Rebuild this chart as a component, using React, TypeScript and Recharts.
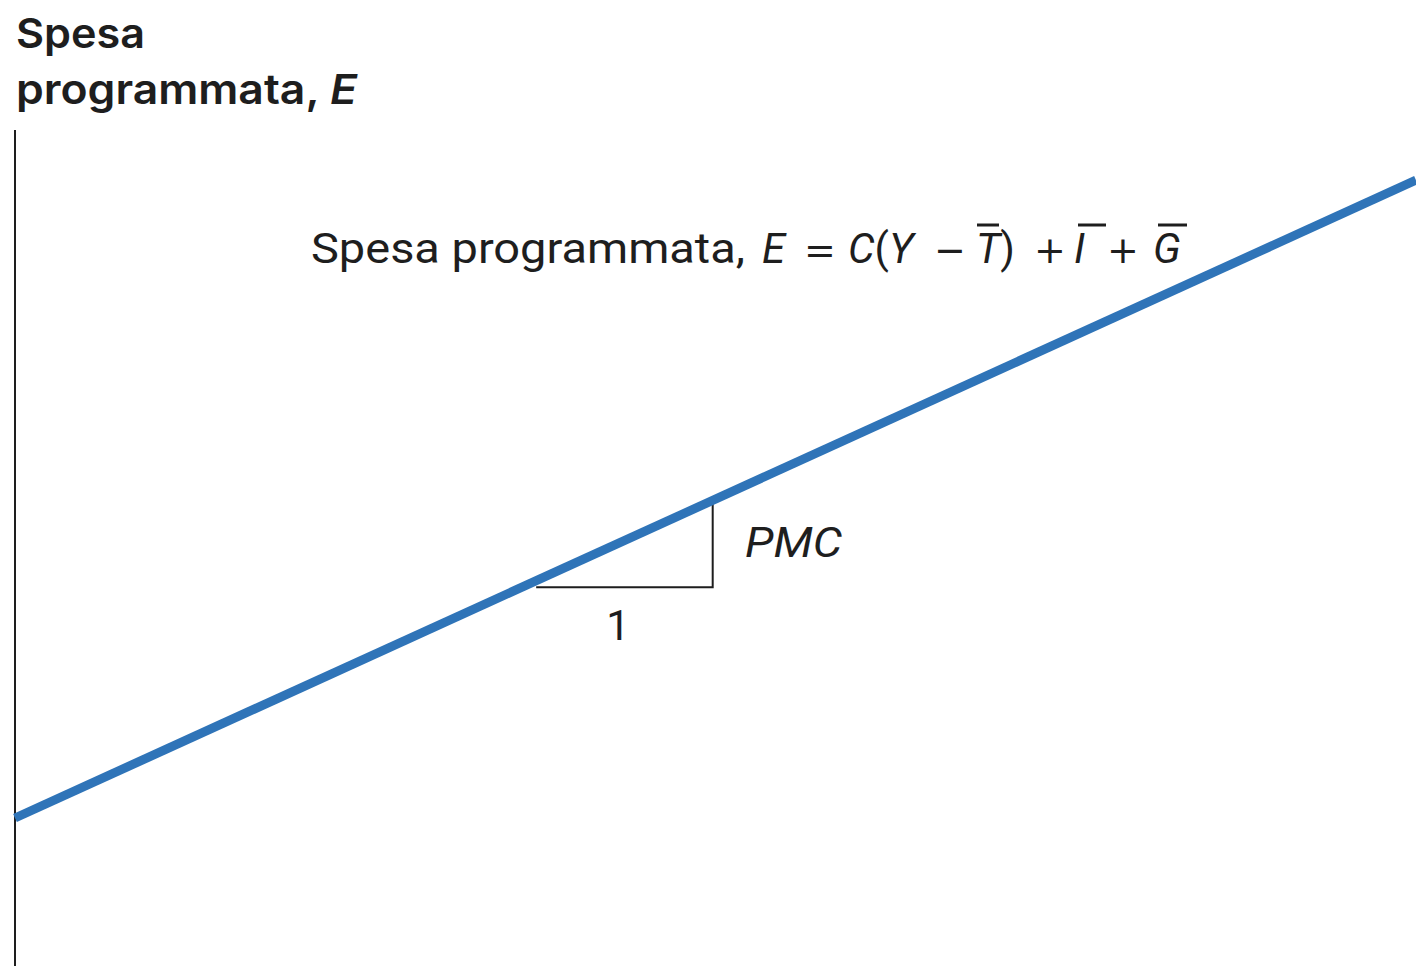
import { LineChart, Line, XAxis, YAxis, ReferenceLine, Customized } from 'recharts';

// reddito Y (asse orizzontale, senza etichette)
const redditoY = [0, 100];
// spesa programmata E sulla retta
const spesaE = [17.7, 94];
// triangolo della pendenza (PMC)
const triangoloX = [37.2, 49.8, 49.8];
const triangoloE = [45.3, 45.3, 55.7];

const lineData = redditoY.map((y, i) => ({ y, e: spesaE[i] }));
const triData = triangoloX.map((y, i) => ({ y, e: triangoloE[i] }));

const BLUE = '#2f74b8';
const INK = '#1e1e1e';

const eq = { fontFamily: 'Roboto', fontSize: 42 };
const it = { ...eq, fontStyle: 'italic' as const };
const op = { fontFamily: 'DejaVu Sans', fontSize: 38 };

const Annotations = () => (
    <g fill={INK}>
        <text x={16} y={48} fontFamily="Inter" fontWeight={600} fontSize={41} textLength={129} lengthAdjust="spacingAndGlyphs">Spesa</text>
        <text x={16} y={104} fontFamily="Inter" fontWeight={600} fontSize={41} textLength={341} lengthAdjust="spacingAndGlyphs">
            programmata, <tspan fontStyle="italic">E</tspan>
        </text>

        <text x={311} y={263} {...eq} textLength={434} lengthAdjust="spacingAndGlyphs">Spesa programmata,</text>
        <text x={762} y={263} {...it}>E</text>
        <text x={804} y={263} {...op}>=</text>
        <text x={848} y={263} {...eq}>
            <tspan fontStyle="italic">C</tspan>(<tspan fontStyle="italic">Y</tspan>
        </text>
        <text x={934} y={263} {...op}>−</text>
        <text x={976} y={263} {...eq}>
            <tspan fontStyle="italic">T</tspan>)
        </text>
        <text x={1034} y={263} {...op}>+</text>
        <text x={1074} y={263} {...it}>I</text>
        <text x={1107} y={263} {...op}>+</text>
        <text x={1153} y={263} {...it}>G</text>
        <g stroke={INK} strokeWidth={3}>
            <line x1={977} x2={999} y1={225} y2={225} />
            <line x1={1078} x2={1106} y1={225} y2={225} />
            <line x1={1158} x2={1187} y1={225} y2={225} />
        </g>

        <text x={745} y={557} fontFamily="Roboto" fontStyle="italic" fontSize={42} textLength={97} lengthAdjust="spacingAndGlyphs">PMC</text>
        <text x={618} y={640} fontFamily="Roboto" fontSize={42} textAnchor="middle">1</text>
    </g>
);

export default function App() {
    return (
        <div style={{ position: 'fixed', top: 0, left: 0, width: 1416, height: 966, background: '#fff', overflow: 'hidden' }}>
            <LineChart width={1416} height={966} margin={{ top: 130, right: 0, bottom: 0, left: 15 }}>
                <XAxis dataKey="y" type="number" domain={[0, 100]} hide allowDuplicatedCategory={false} />
                <YAxis type="number" domain={[0, 100]} hide />
                <ReferenceLine x={0} stroke={INK} strokeWidth={2} />
                <Line data={triData} dataKey="e" stroke={INK} strokeWidth={2} dot={false} isAnimationActive={false} />
                <Line data={lineData} dataKey="e" stroke={BLUE} strokeWidth={9} dot={false} isAnimationActive={false} />
                <Customized component={Annotations} />
            </LineChart>
        </div>
    );
}
